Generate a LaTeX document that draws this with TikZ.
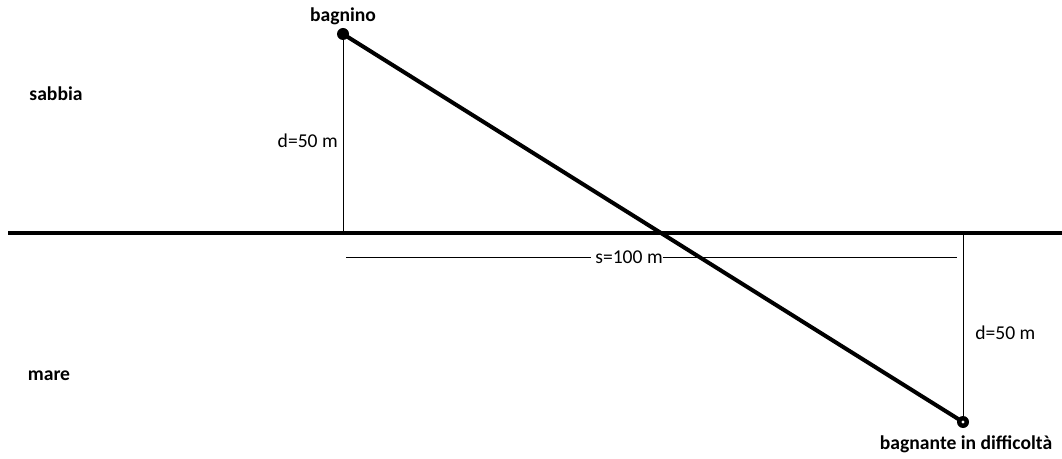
\documentclass[tikz,border=0pt]{standalone}
\usepackage{fontspec}
\setmainfont{Carlito}
\begin{document}
\begin{tikzpicture}[x=0.75pt,y=-0.75pt,
  lbl/.style={font=\fontsize{14.7}{17}\selectfont, inner sep=0pt},
  blbl/.style={font=\fontsize{14.7}{17}\selectfont\bfseries, inner sep=0pt},
  thickline/.style={line width=3pt},
  thinline/.style={line width=0.75pt}]
\useasboundingbox (0,0) rectangle (1062,459);
% shoreline
\coordinate (shL) at (8,233);
\coordinate (shR) at (1062,233);
\draw[thickline] (shL) -- (shR);
% points
\coordinate (A) at (343,34);
\coordinate (B) at (963,422);
\coordinate (Af) at (343,233);
\coordinate (Bf) at (963,233);
\draw[thinline] (A) -- (Af);
\draw[thinline] (B) -- (Bf);
\draw[thickline] (A) -- (B);
\fill (A) circle[radius=4.5pt];
\fill (B) circle[radius=4.5pt];
\fill[white] (B) circle[radius=1.2pt];
% s dimension
\node[lbl] (s) at (629,257) {s=100 m};
\coordinate (sL) at (346,258);
\coordinate (sR) at (957,258);
\draw[thinline] (sL) -- ([xshift=-3pt]s.west |- sL);
\draw[thinline] (s.east |- sR) -- (sR);
% labels
\node[lbl, anchor=east] (d1) at (338,141) {d=50 m};
\node[lbl, anchor=west] (d2) at (975,333) {d=50 m};
\node[blbl] (sab) at (56,94) {sabbia};
\node[blbl] (mar) at (49,376) {mare};
\node[blbl] (bag) at (343,16) {bagnino};
\node[blbl] (bgt) at (966,444) {bagnante in difficoltà};
\end{tikzpicture}
\end{document}
